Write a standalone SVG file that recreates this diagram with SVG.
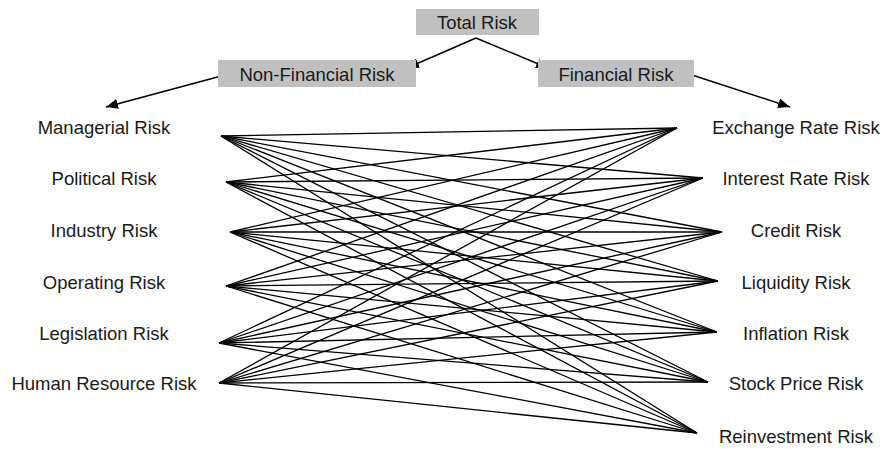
<svg xmlns="http://www.w3.org/2000/svg" width="881" height="449" viewBox="0 0 881 449">
<style>
  text { font-family: "Liberation Sans", Arial, sans-serif; font-size: 18.5px; fill: #1a1a1a; text-anchor: middle; }
  .box { fill: #c0c0c0; stroke: none; }
  .arrow { stroke: #000; stroke-width: 1.4; fill: none; marker-end: url(#ah); }
  .link { stroke: #000; stroke-width: 1.3; fill: none; }
</style>
<defs>
  <marker id="ah" viewBox="0 0 12 10" refX="12" refY="5" markerWidth="12" markerHeight="10" markerUnits="userSpaceOnUse" orient="auto">
    <path d="M0,0 L12,5 L0,10 Z" fill="#000"/>
  </marker>
</defs>
<rect width="881" height="449" fill="#fff"/>

<g id="connectors">
  <line class="arrow" x1="476" y1="38" x2="407" y2="68"/>
  <line class="arrow" x1="476" y1="38" x2="548" y2="68"/>
  <line class="arrow" x1="225" y1="75" x2="106" y2="107"/>
  <line class="arrow" x1="689" y1="74" x2="790" y2="107"/>
  <g id="links">
    <line class="link" x1="221" y1="136" x2="677" y2="128"/>
    <line class="link" x1="221" y1="136" x2="703" y2="178"/>
    <line class="link" x1="221" y1="136" x2="722" y2="232"/>
    <line class="link" x1="221" y1="136" x2="718" y2="281"/>
    <line class="link" x1="221" y1="136" x2="717" y2="332"/>
    <line class="link" x1="221" y1="136" x2="708" y2="382"/>
    <line class="link" x1="221" y1="136" x2="697" y2="433"/>
    <line class="link" x1="226" y1="182" x2="677" y2="128"/>
    <line class="link" x1="226" y1="182" x2="703" y2="178"/>
    <line class="link" x1="226" y1="182" x2="722" y2="232"/>
    <line class="link" x1="226" y1="182" x2="718" y2="281"/>
    <line class="link" x1="226" y1="182" x2="717" y2="332"/>
    <line class="link" x1="226" y1="182" x2="708" y2="382"/>
    <line class="link" x1="226" y1="182" x2="697" y2="433"/>
    <line class="link" x1="230" y1="232" x2="677" y2="128"/>
    <line class="link" x1="230" y1="232" x2="703" y2="178"/>
    <line class="link" x1="230" y1="232" x2="722" y2="232"/>
    <line class="link" x1="230" y1="232" x2="718" y2="281"/>
    <line class="link" x1="230" y1="232" x2="717" y2="332"/>
    <line class="link" x1="230" y1="232" x2="708" y2="382"/>
    <line class="link" x1="230" y1="232" x2="697" y2="433"/>
    <line class="link" x1="226" y1="286" x2="677" y2="128"/>
    <line class="link" x1="226" y1="286" x2="703" y2="178"/>
    <line class="link" x1="226" y1="286" x2="722" y2="232"/>
    <line class="link" x1="226" y1="286" x2="718" y2="281"/>
    <line class="link" x1="226" y1="286" x2="717" y2="332"/>
    <line class="link" x1="226" y1="286" x2="708" y2="382"/>
    <line class="link" x1="226" y1="286" x2="697" y2="433"/>
    <line class="link" x1="219" y1="343" x2="677" y2="128"/>
    <line class="link" x1="219" y1="343" x2="703" y2="178"/>
    <line class="link" x1="219" y1="343" x2="722" y2="232"/>
    <line class="link" x1="219" y1="343" x2="718" y2="281"/>
    <line class="link" x1="219" y1="343" x2="717" y2="332"/>
    <line class="link" x1="219" y1="343" x2="708" y2="382"/>
    <line class="link" x1="219" y1="343" x2="697" y2="433"/>
    <line class="link" x1="219" y1="383" x2="677" y2="128"/>
    <line class="link" x1="219" y1="383" x2="703" y2="178"/>
    <line class="link" x1="219" y1="383" x2="722" y2="232"/>
    <line class="link" x1="219" y1="383" x2="718" y2="281"/>
    <line class="link" x1="219" y1="383" x2="717" y2="332"/>
    <line class="link" x1="219" y1="383" x2="708" y2="382"/>
    <line class="link" x1="219" y1="383" x2="697" y2="433"/>
  </g>
</g>

<g id="total-risk">
  <rect class="box" x="416" y="9" width="123" height="26"/>
  <text x="477" y="29">Total Risk</text>
</g>
<g id="non-financial-risk">
  <rect class="box" x="218" y="60" width="198" height="27"/>
  <text x="317" y="81">Non-Financial Risk</text>
</g>
<g id="financial-risk">
  <rect class="box" x="538" y="60" width="156" height="27"/>
  <text x="616" y="81">Financial Risk</text>
</g>

<g id="managerial-risk"><text x="104" y="134">Managerial Risk</text></g>
<g id="political-risk"><text x="104" y="185">Political Risk</text></g>
<g id="industry-risk"><text x="104" y="237">Industry Risk</text></g>
<g id="operating-risk"><text x="104" y="289">Operating Risk</text></g>
<g id="legislation-risk"><text x="104" y="340">Legislation Risk</text></g>
<g id="human-resource-risk"><text x="104" y="390">Human Resource Risk</text></g>

<g id="exchange-rate-risk"><text x="796" y="134">Exchange Rate Risk</text></g>
<g id="interest-rate-risk"><text x="796" y="185">Interest Rate Risk</text></g>
<g id="credit-risk"><text x="796" y="237">Credit Risk</text></g>
<g id="liquidity-risk"><text x="796" y="289">Liquidity Risk</text></g>
<g id="inflation-risk"><text x="796" y="340">Inflation Risk</text></g>
<g id="stock-price-risk"><text x="796" y="390">Stock Price Risk</text></g>
<g id="reinvestment-risk"><text x="796" y="443">Reinvestment Risk</text></g>
</svg>
